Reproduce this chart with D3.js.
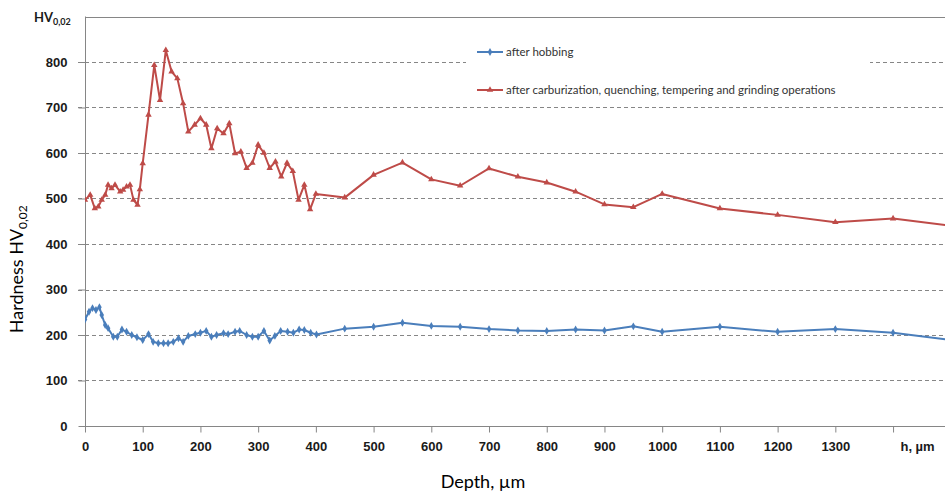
<!DOCTYPE html>
<html>
<head>
<meta charset="utf-8">
<script src="https://cdn.jsdelivr.net/npm/d3@7"></script>
<style>
  body { margin: 0; background: #fff; }
  svg { display: block; font-family: Lato, "Open Sans", sans-serif; }
  .axis path, .axis line { stroke: #868686; }
  .axis text { font-weight: bold; font-size: 13px; fill: #1a1a1a; }
</style>
</head>
<body>
<script>
// Depth (µm) and HV values
const hobbingDepth = [0, 7, 13, 19, 25, 29, 35, 40, 49, 56, 64, 72, 81, 90, 100, 110, 118, 127, 136, 144,
  153, 162, 170, 179, 191, 200, 210, 219, 228, 240, 248, 260, 268, 280, 290, 300, 310, 320, 329, 339,
  351, 361, 371, 380, 391, 401, 450, 500, 550, 600, 650, 700, 750, 800, 850, 900, 950, 1000, 1100, 1200,
  1300, 1400, 1500];
const hobbingHV = [234, 251, 259, 255, 261, 244, 222, 215, 196, 196, 212, 207, 200, 195, 189, 202, 185, 182, 182, 182,
  185, 193, 185, 198, 202, 205, 209, 196, 200, 204, 202, 207, 209, 200, 196, 196, 209, 188, 198, 209,
  207, 205, 212, 211, 205, 201, 214, 218, 227, 220, 218, 213, 210, 209, 212, 210, 219, 207, 218, 207,
  213, 205, 189];

const carbDepth = [0, 9, 17, 23, 29, 35, 40, 46, 52, 61, 66, 72, 78, 84, 91, 95, 100, 110, 120, 130,
  140, 150, 160, 170, 179, 190, 200, 210, 219, 229, 240, 250, 260, 270, 280, 290, 300, 310, 320, 330,
  340, 350, 360, 370, 380, 390, 400, 450, 500, 550, 600, 650, 700, 750, 800, 850, 900, 950, 1000, 1100,
  1200, 1300, 1400, 1500];
const carbHV = [497, 508, 478, 482, 497, 508, 530, 522, 530, 515, 519, 526, 530, 497, 486, 520, 577, 684, 793, 716,
  826, 779, 764, 709, 647, 662, 676, 662, 610, 654, 643, 665, 599, 603, 567, 578, 618, 600, 567, 581,
  548, 578, 560, 497, 530, 476, 510, 502, 552, 579, 542, 528, 566, 548, 535, 515, 487, 481, 510, 478,
  464, 448, 456, 440];

const seriesNames = ['after hobbing', 'after carburization, quenching, tempering and grinding operations'];
const xTicks = [0, 100, 200, 300, 400, 500, 600, 700, 800, 900, 1000, 1100, 1200, 1300, 1400];
const xTickLabels = ['0', '100', '200', '300', '400', '500', '600', '700', '800', '900', '1000', '1100', '1200', '1300', 'h, µm'];
const yTicks = [0, 100, 200, 300, 400, 500, 600, 700, 800];

const w = 945;
const h = 492;
const plot = { left: 85, right: 945, top: 16.5, bottom: 426 };
const colors = ['#4a7ebb', '#be4b48'];

const x = d3.scaleLinear().domain([0, 1490]).range([plot.left, plot.right]);
const y = d3.scaleLinear().domain([0, 900]).range([plot.bottom, plot.top]);

const svg = d3.select('body').append('svg')
  .attr('width', w)
  .attr('height', h);

svg.append('defs').append('clipPath')
  .attr('id', 'clip')
  .append('rect')
  .attr('x', plot.left)
  .attr('y', 0)
  .attr('width', plot.right - plot.left)
  .attr('height', plot.bottom);

// Gridlines
svg.append('g')
  .selectAll('line')
  .data(yTicks.slice(1))
  .enter()
  .append('line')
  .attr('x1', plot.left - 7)
  .attr('x2', plot.right)
  .attr('y1', d => Math.round(y(d)) + 0.5)
  .attr('y2', d => Math.round(y(d)) + 0.5)
  .attr('stroke', '#868686')
  .attr('stroke-dasharray', '4,3');

// Top border of the plot area
svg.append('line')
  .attr('x1', plot.left)
  .attr('x2', plot.right)
  .attr('y1', Math.round(plot.top) + 0.5)
  .attr('y2', Math.round(plot.top) + 0.5)
  .attr('stroke', '#868686');

// Legend background hides the gridlines behind it
svg.append('rect')
  .attr('x', 466)
  .attr('y', 36)
  .attr('width', 404)
  .attr('height', 70)
  .attr('fill', '#fff');

// Axes
const xAxis = d3.axisBottom(x)
  .tickValues(xTicks)
  .tickSize(6)
  .tickPadding(9)
  .tickFormat((d, i) => xTickLabels[i]);

const gx = svg.append('g')
  .attr('class', 'axis')
  .attr('transform', `translate(0, ${Math.round(plot.bottom) + 0.5})`)
  .call(xAxis);
gx.select('.domain').attr('d', `M${plot.left},0H${plot.right}`);
gx.selectAll('.tick').filter(d => d === 1400).select('text').attr('dx', 24);

const yAxis = d3.axisLeft(y)
  .tickValues(yTicks)
  .tickSize(7)
  .tickPadding(11);

const gy = svg.append('g')
  .attr('class', 'axis')
  .attr('transform', `translate(${plot.left + 0.5}, 0)`)
  .call(yAxis);
gy.select('.domain').attr('d', `M0,${plot.top}V${plot.bottom}`);
gy.selectAll('.tick line').attr('stroke', 'none');
gy.selectAll('.tick').filter(d => d === 0).select('line')
  .attr('stroke', '#868686');

// Series
const series = [
  { name: seriesNames[0], pts: hobbingDepth.map((d, i) => [d, hobbingHV[i]]), color: colors[0], symbol: d3.symbolDiamond },
  { name: seriesNames[1], pts: carbDepth.map((d, i) => [d, carbHV[i]]), color: colors[1], symbol: d3.symbolTriangle }
];

const line = d3.line()
  .x(d => x(d[0]))
  .y(d => y(d[1]));

const marks = svg.append('g').attr('clip-path', 'url(#clip)');

series.forEach((s) => {
  marks.append('path')
    .datum(s.pts)
    .attr('fill', 'none')
    .attr('stroke', s.color)
    .attr('stroke-width', 2)
    .attr('stroke-linejoin', 'round')
    .attr('d', line);

  marks.selectAll(null)
    .data(s.pts)
    .enter()
    .append('path')
    .attr('transform', d => `translate(${x(d[0])}, ${y(d[1])})`)
    .attr('d', d3.symbol().type(s.symbol).size(18))
    .attr('fill', s.color);
});

// Legend
const legend = svg.append('g')
  .selectAll('g')
  .data(series)
  .enter()
  .append('g')
  .attr('transform', (d, i) => `translate(477, ${52 + i * 38})`);

legend.append('line')
  .attr('x1', 0)
  .attr('x2', 26)
  .attr('stroke', d => d.color)
  .attr('stroke-width', 2);

legend.append('path')
  .attr('transform', 'translate(13, 0)')
  .attr('d', d => d3.symbol().type(d.symbol).size(18)())
  .attr('fill', d => d.color);

legend.append('text')
  .attr('x', 29)
  .attr('dy', '0.35em')
  .attr('font-size', '11.5px')
  .attr('fill', '#333')
  .text(d => d.name);

// Unit label above the y axis
const unit = svg.append('text')
  .attr('x', 34)
  .attr('y', 22)
  .attr('font-weight', 'bold')
  .attr('font-size', '13px')
  .attr('fill', '#1a1a1a');
unit.append('tspan').text('HV');
unit.append('tspan').attr('dy', 3).attr('font-size', '9px').text('0,02');

// Y axis title
const yTitle = svg.append('text')
  .attr('transform', `translate(23, ${(plot.top + plot.bottom) / 2 + 48}) rotate(-90)`)
  .attr('text-anchor', 'middle')
  .attr('font-size', '18px')
  .attr('fill', '#000');
yTitle.append('tspan').text('Hardness HV');
yTitle.append('tspan').attr('dy', 4).attr('font-size', '12px').text('0,02');

// X axis title
svg.append('text')
  .attr('x', 483)
  .attr('y', 488)
  .attr('text-anchor', 'middle')
  .attr('font-size', '18px')
  .attr('fill', '#000')
  .text('Depth, µm');
</script>
</body>
</html>
